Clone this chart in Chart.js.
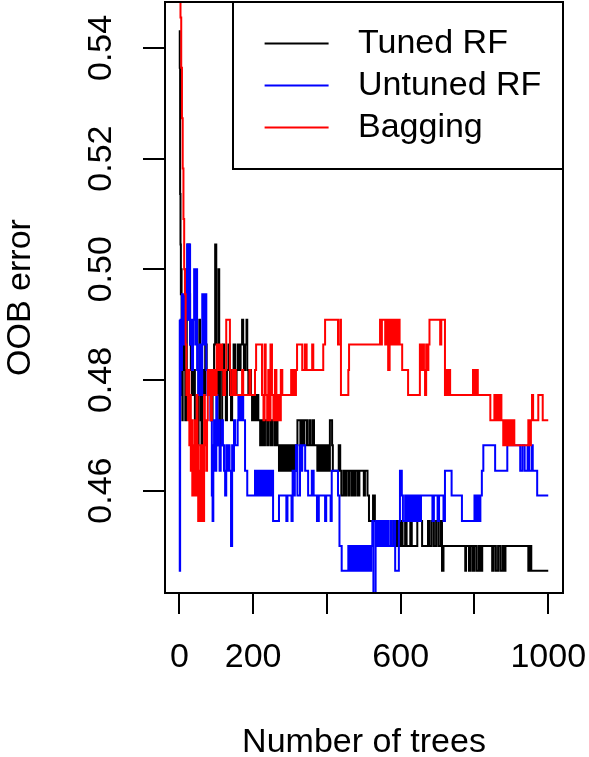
<!DOCTYPE html>
<html>
<head>
<meta charset="utf-8">
<title>OOB error vs number of trees</title>
<script src="https://cdn.jsdelivr.net/npm/chart.js@4.4.1/dist/chart.umd.min.js"></script>
<style>
    html, body { margin: 0; padding: 0; background: #ffffff; }
    #wrap { width: 589px; height: 757px; }
</style>
</head>
<body>
<div id="wrap"><canvas id="oobChart" width="589" height="757"></canvas></div>
<script>
// Axis ticks (R drops the 400 / 800 labels because they would overlap)
const xTickValues = [0, 200, 400, 600, 800, 1000];
const xTickLabels = ['0', '200', '', '600', '', '1000'];
const yTickValues = [0.46, 0.48, 0.50, 0.52, 0.54];
const yTickLabels = ['0.46', '0.48', '0.50', '0.52', '0.54'];

const seriesNames = ['Tuned RF', 'Untuned RF', 'Bagging'];
const seriesColors = ['#000000', '#0000ff', '#ff0000'];

// OOB error per number of trees, stored as change points (value holds until next tree listed)
const tunedTrees = [1, 2, 3, 4, 5, 6, 7, 8, 9, 10, 12, 14, 16, 18, 20, 22, 27, 29, 31, 34, 38, 42, 46, 48, 50, 52, 54, 56, 58, 60,
    62, 64, 67, 70, 74, 78, 82, 86, 90, 94, 97, 100, 102, 104, 106, 108, 110, 113, 116, 119, 122, 126, 129, 133, 137, 140, 143, 147, 151, 155,
    158, 162, 166, 170, 173, 175, 178, 182, 184, 187, 190, 194, 197, 200, 205, 209, 214, 219, 224, 228, 232, 238, 242, 248, 252, 258, 262, 266, 270, 274,
    278, 282, 286, 290, 294, 298, 303, 307, 312, 316, 320, 328, 331, 336, 339, 346, 352, 356, 362, 365, 374, 378, 383, 388, 393, 398, 403, 408, 414, 416,
    432, 436, 439, 445, 449, 452, 458, 461, 467, 470, 474, 478, 484, 488, 500, 503, 510, 514, 525, 530, 533, 580, 584, 590, 594, 600, 605, 612, 616, 626,
    630, 645, 658, 674, 678, 684, 690, 696, 702, 708, 712, 716, 775, 777, 785, 790, 796, 800, 806, 812, 816, 821, 848, 852, 858, 864, 870, 876, 880, 884,
    946, 950, 954, 959, 1000];
const tunedErr = [0.5432, 0.5364, 0.5136, 0.5045, 0.4955, 0.5000, 0.4864, 0.4773, 0.4727, 0.4818, 0.4909, 0.4864, 0.4818, 0.4727, 0.4818, 0.4909, 0.5045, 0.4955, 0.4864, 0.4818, 0.4773, 0.4818, 0.4727, 0.4682, 0.4773, 0.4682, 0.4818, 0.4909, 0.4818, 0.4727,
    0.4682, 0.4773, 0.4818, 0.4773, 0.4864, 0.4818, 0.4773, 0.4818, 0.4727, 0.4818, 0.4864, 0.5045, 0.4864, 0.4682, 0.4773, 0.5000, 0.4818, 0.4727, 0.4682, 0.4818, 0.4864, 0.4773, 0.4727, 0.4818, 0.4864, 0.4773, 0.4727, 0.4818, 0.4864, 0.4773,
    0.4818, 0.4864, 0.4818, 0.4864, 0.4909, 0.4864, 0.4818, 0.4864, 0.4909, 0.4818, 0.4773, 0.4818, 0.4773, 0.4727, 0.4773, 0.4727, 0.4773, 0.4727, 0.4682, 0.4727, 0.4682, 0.4727, 0.4682, 0.4727, 0.4682, 0.4727, 0.4682, 0.4727, 0.4682, 0.4636,
    0.4682, 0.4636, 0.4682, 0.4636, 0.4682, 0.4636, 0.4682, 0.4636, 0.4682, 0.4636, 0.4682, 0.4727, 0.4682, 0.4727, 0.4682, 0.4727, 0.4682, 0.4727, 0.4682, 0.4727, 0.4682, 0.4636, 0.4682, 0.4636, 0.4682, 0.4636, 0.4682, 0.4636, 0.4727, 0.4682,
    0.4636, 0.4682, 0.4636, 0.4591, 0.4636, 0.4591, 0.4636, 0.4591, 0.4636, 0.4591, 0.4636, 0.4591, 0.4636, 0.4591, 0.4636, 0.4591, 0.4636, 0.4591, 0.4545, 0.4591, 0.4545, 0.4500, 0.4545, 0.4500, 0.4545, 0.4500, 0.4545, 0.4500, 0.4545, 0.4500,
    0.4545, 0.4500, 0.4545, 0.4500, 0.4545, 0.4500, 0.4545, 0.4500, 0.4545, 0.4500, 0.4545, 0.4455, 0.4500, 0.4455, 0.4500, 0.4455, 0.4500, 0.4455, 0.4500, 0.4455, 0.4500, 0.4455, 0.4500, 0.4455, 0.4500, 0.4455, 0.4500, 0.4455, 0.4500, 0.4455,
    0.4500, 0.4455, 0.4500, 0.4455, 0.4455];

const untunedTrees = [1, 2, 3, 5, 7, 9, 12, 15, 18, 21, 23, 26, 29, 31, 34, 37, 40, 43, 46, 48, 51, 54, 58, 62, 66, 70, 73, 76, 80, 84,
    88, 90, 92, 94, 97, 100, 103, 106, 109, 112, 115, 118, 121, 124, 127, 129, 132, 136, 140, 143, 145, 148, 151, 158, 160, 165, 170, 173, 178, 184,
    205, 208, 211, 214, 218, 222, 226, 229, 234, 238, 243, 247, 251, 254, 270, 290, 293, 304, 307, 310, 313, 316, 320, 327, 329, 333, 341, 349, 359, 364,
    373, 378, 395, 398, 410, 413, 430, 434, 440, 458, 462, 464, 468, 471, 476, 479, 482, 485, 490, 493, 496, 498, 503, 506, 509, 512, 517, 520, 523, 526,
    532, 535, 540, 543, 548, 551, 556, 559, 564, 567, 573, 576, 582, 585, 595, 598, 603, 606, 612, 615, 620, 623, 628, 632, 637, 641, 646, 650, 655, 686,
    690, 700, 704, 716, 720, 738, 766, 800, 804, 808, 812, 816, 820, 824, 856, 889, 924, 930, 936, 944, 948, 955, 958, 970, 987, 1000];
const untunedErr = [0.4909, 0.4455, 0.4773, 0.4909, 0.4818, 0.4955, 0.4864, 0.4955, 0.4864, 0.5000, 0.5045, 0.4909, 0.5045, 0.4864, 0.4909, 0.4818, 0.4909, 0.5000, 0.4864, 0.5000, 0.4818, 0.4773, 0.4864, 0.4773, 0.4955, 0.4864, 0.4955, 0.4818, 0.4773, 0.4818,
    0.4727, 0.4591, 0.4545, 0.4682, 0.4727, 0.4636, 0.4773, 0.4682, 0.4727, 0.4636, 0.4682, 0.4727, 0.4682, 0.4636, 0.4591, 0.4682, 0.4636, 0.4682, 0.4636, 0.4500, 0.4682, 0.4636, 0.4727, 0.4682, 0.4727, 0.4773, 0.4727, 0.4773, 0.4727, 0.4636,
    0.4591, 0.4636, 0.4591, 0.4636, 0.4591, 0.4636, 0.4591, 0.4636, 0.4591, 0.4636, 0.4591, 0.4636, 0.4591, 0.4636, 0.4545, 0.4591, 0.4545, 0.4591, 0.4545, 0.4636, 0.4591, 0.4636, 0.4682, 0.4591, 0.4682, 0.4636, 0.4682, 0.4636, 0.4591, 0.4636,
    0.4591, 0.4545, 0.4591, 0.4545, 0.4591, 0.4545, 0.4636, 0.4591, 0.4500, 0.4455, 0.4500, 0.4455, 0.4500, 0.4455, 0.4500, 0.4455, 0.4500, 0.4455, 0.4500, 0.4455, 0.4500, 0.4455, 0.4500, 0.4455, 0.4500, 0.4455, 0.4500, 0.4455, 0.4500, 0.4545,
    0.4409, 0.4545, 0.4500, 0.4545, 0.4500, 0.4545, 0.4500, 0.4545, 0.4500, 0.4545, 0.4500, 0.4545, 0.4500, 0.4545, 0.4455, 0.4545, 0.4636, 0.4591, 0.4545, 0.4591, 0.4545, 0.4591, 0.4545, 0.4591, 0.4545, 0.4591, 0.4545, 0.4591, 0.4545, 0.4591,
    0.4545, 0.4591, 0.4545, 0.4591, 0.4545, 0.4636, 0.4591, 0.4545, 0.4591, 0.4545, 0.4591, 0.4545, 0.4591, 0.4636, 0.4682, 0.4636, 0.4682, 0.4636, 0.4682, 0.4636, 0.4682, 0.4636, 0.4682, 0.4636, 0.4591, 0.4591];

const baggingTrees = [1, 3, 5, 7, 9, 11, 13, 15, 17, 19, 21, 23, 25, 27, 29, 31, 33, 35, 37, 39, 41, 43, 45, 47, 49, 51, 53, 55, 57, 59,
    61, 63, 65, 67, 69, 71, 73, 75, 77, 79, 82, 85, 88, 91, 94, 97, 101, 104, 107, 110, 114, 116, 119, 124, 127, 137, 139, 145, 148, 150,
    153, 170, 173, 190, 193, 205, 208, 224, 228, 231, 234, 238, 241, 244, 247, 251, 255, 259, 263, 267, 271, 275, 279, 303, 306, 310, 313, 316, 319, 333,
    340, 345, 360, 363, 390, 395, 430, 436, 438, 458, 460, 544, 547, 549, 558, 563, 566, 570, 573, 578, 581, 586, 589, 594, 597, 604, 620, 652, 655, 660,
    663, 666, 669, 672, 675, 678, 707, 710, 720, 724, 727, 730, 734, 796, 800, 805, 809, 843, 854, 857, 861, 865, 869, 873, 878, 882, 885, 889, 893, 897,
    901, 905, 908, 946, 949, 953, 956, 959, 973, 985, 988, 1000];
const baggingErr = [0.5682, 0.5591, 0.5455, 0.5364, 0.5273, 0.5182, 0.5091, 0.5000, 0.4955, 0.4864, 0.4773, 0.4818, 0.4727, 0.4818, 0.4682, 0.4773, 0.4636, 0.4727, 0.4591, 0.4682, 0.4591, 0.4727, 0.4636, 0.4591, 0.4773, 0.4682, 0.4545, 0.4636, 0.4545, 0.4682,
    0.4591, 0.4545, 0.4682, 0.4545, 0.4773, 0.4682, 0.4727, 0.4636, 0.4727, 0.4818, 0.4773, 0.4818, 0.4727, 0.4818, 0.4773, 0.4818, 0.4773, 0.4864, 0.4818, 0.4864, 0.4818, 0.4864, 0.4818, 0.4773, 0.4818, 0.4909, 0.4818, 0.4773, 0.4818, 0.4773,
    0.4818, 0.4773, 0.4818, 0.4773, 0.4818, 0.4773, 0.4818, 0.4864, 0.4773, 0.4727, 0.4864, 0.4773, 0.4727, 0.4818, 0.4727, 0.4864, 0.4773, 0.4727, 0.4818, 0.4727, 0.4773, 0.4727, 0.4818, 0.4773, 0.4818, 0.4773, 0.4818, 0.4773, 0.4818, 0.4864,
    0.4818, 0.4864, 0.4818, 0.4864, 0.4818, 0.4864, 0.4909, 0.4864, 0.4909, 0.4773, 0.4818, 0.4864, 0.4909, 0.4864, 0.4909, 0.4864, 0.4909, 0.4818, 0.4909, 0.4864, 0.4909, 0.4864, 0.4909, 0.4864, 0.4909, 0.4864, 0.4818, 0.4773, 0.4864, 0.4818,
    0.4864, 0.4818, 0.4773, 0.4864, 0.4818, 0.4864, 0.4909, 0.4864, 0.4909, 0.4773, 0.4818, 0.4773, 0.4818, 0.4773, 0.4818, 0.4773, 0.4818, 0.4773, 0.4727, 0.4773, 0.4727, 0.4773, 0.4727, 0.4773, 0.4727, 0.4682, 0.4727, 0.4682, 0.4727, 0.4682,
    0.4727, 0.4682, 0.4727, 0.4682, 0.4727, 0.4682, 0.4727, 0.4773, 0.4727, 0.4773, 0.4727, 0.4727];

const FONT_FAMILY = '"Liberation Sans", Arial, Helvetica, sans-serif';
const FONT_SIZE = 34;

/**
 * Pair tree counts with error values for a linear x scale
 */
function toPoints(trees, errors) {
    return trees.map((t, i) => ({ x: t, y: errors[i] }));
}

/**
 * Keep the plot region where R put it: ignore the label overhang padding
 */
function fixScaleBox(scale, size) {
    if (scale.isHorizontal()) {
        scale.height = size;
    } else {
        scale.width = size;
    }
    scale.paddingLeft = 0;
    scale.paddingRight = 0;
    scale.paddingTop = 0;
    scale.paddingBottom = 0;
}

/**
 * Box around the plot region, drawn over the lines like R's box()
 */
const plotBoxPlugin = {
    id: 'plotBox',
    afterDatasetsDraw(chart) {
        const { ctx, chartArea } = chart;
        ctx.save();
        ctx.strokeStyle = '#000000';
        ctx.lineWidth = 2;
        ctx.strokeRect(chartArea.left, chartArea.top,
            chartArea.right - chartArea.left, chartArea.bottom - chartArea.top);
        ctx.restore();
    }
};

/**
 * R style legend in the top right corner of the plot
 */
const topRightLegendPlugin = {
    id: 'topRightLegend',
    afterDraw(chart) {
        const { ctx, chartArea } = chart;
        const boxWidth = 330;
        const boxHeight = 167;
        const left = chartArea.right - boxWidth;
        const top = chartArea.top;

        ctx.save();
        ctx.fillStyle = '#ffffff';
        ctx.fillRect(left, top, boxWidth, boxHeight);
        ctx.strokeStyle = '#000000';
        ctx.lineWidth = 2;
        ctx.strokeRect(left, top, boxWidth, boxHeight);

        ctx.font = `${FONT_SIZE}px ${FONT_FAMILY}`;
        ctx.textAlign = 'left';
        ctx.textBaseline = 'middle';
        chart.data.datasets.forEach((ds, i) => {
            const y = top + 41.6 + i * 42;
            ctx.strokeStyle = ds.borderColor;
            ctx.lineWidth = 2;
            ctx.beginPath();
            ctx.moveTo(left + 31.6, y);
            ctx.lineTo(left + 95.6, y);
            ctx.stroke();
            ctx.fillStyle = '#000000';
            ctx.fillText(ds.label, left + 125, y);
        });
        ctx.restore();
    }
};

function makeDataset(index, trees, errors) {
    return {
        label: seriesNames[index],
        data: toPoints(trees, errors),
        borderColor: seriesColors[index],
        backgroundColor: seriesColors[index],
        borderWidth: 2,
        pointRadius: 0,
        stepped: 'after',
        tension: 0,
        fill: false,
        clip: 0,
        // later series are drawn on top, as with lines() in R
        order: 3 - index
    };
}

const ctx = document.getElementById('oobChart').getContext('2d');
new Chart(ctx, {
    type: 'line',
    data: {
        datasets: [
            makeDataset(0, tunedTrees, tunedErr),
            makeDataset(1, untunedTrees, untunedErr),
            makeDataset(2, baggingTrees, baggingErr)
        ]
    },
    options: {
        responsive: false,
        devicePixelRatio: 1,
        animation: false,
        layout: {
            padding: { left: 0, right: 26, top: 2, bottom: 0 }
        },
        plugins: {
            legend: { display: false },
            tooltip: { enabled: false }
        },
        scales: {
            x: {
                type: 'linear',
                min: -39,
                max: 1040,
                afterBuildTicks: (scale) => {
                    scale.ticks = xTickValues.map(v => ({ value: v }));
                },
                afterFit: (scale) => fixScaleBox(scale, 164),
                ticks: {
                    autoSkip: false,
                    minRotation: 0,
                    maxRotation: 0,
                    padding: 23,
                    color: '#000000',
                    font: { family: FONT_FAMILY, size: FONT_SIZE },
                    callback: (value) => xTickLabels[xTickValues.indexOf(value)]
                },
                grid: {
                    drawOnChartArea: false,
                    tickLength: 21,
                    color: '#000000',
                    lineWidth: 2
                },
                border: { display: true, color: '#000000', width: 2 },
                title: {
                    display: true,
                    text: 'Number of trees',
                    color: '#000000',
                    font: { family: FONT_FAMILY, size: FONT_SIZE, lineHeight: 0.8 },
                    padding: { top: 0, bottom: 1 }
                }
            },
            y: {
                type: 'linear',
                min: 0.4415,
                max: 0.5483,
                afterBuildTicks: (scale) => {
                    scale.ticks = yTickValues.map(v => ({ value: v }));
                },
                afterFit: (scale) => fixScaleBox(scale, 165),
                ticks: {
                    autoSkip: false,
                    minRotation: 90,
                    maxRotation: 90,
                    crossAlign: 'center',
                    padding: 8,
                    color: '#000000',
                    font: { family: FONT_FAMILY, size: FONT_SIZE },
                    callback: (value) => yTickLabels[yTickValues.indexOf(value)]
                },
                grid: {
                    drawOnChartArea: false,
                    tickLength: 22,
                    color: '#000000',
                    lineWidth: 2
                },
                border: { display: true, color: '#000000', width: 2 },
                title: {
                    display: true,
                    text: 'OOB error',
                    color: '#000000',
                    font: { family: FONT_FAMILY, size: FONT_SIZE, lineHeight: 1.2 },
                    padding: 0
                }
            }
        }
    },
    plugins: [plotBoxPlugin, topRightLegendPlugin]
});
</script>
</body>
</html>
